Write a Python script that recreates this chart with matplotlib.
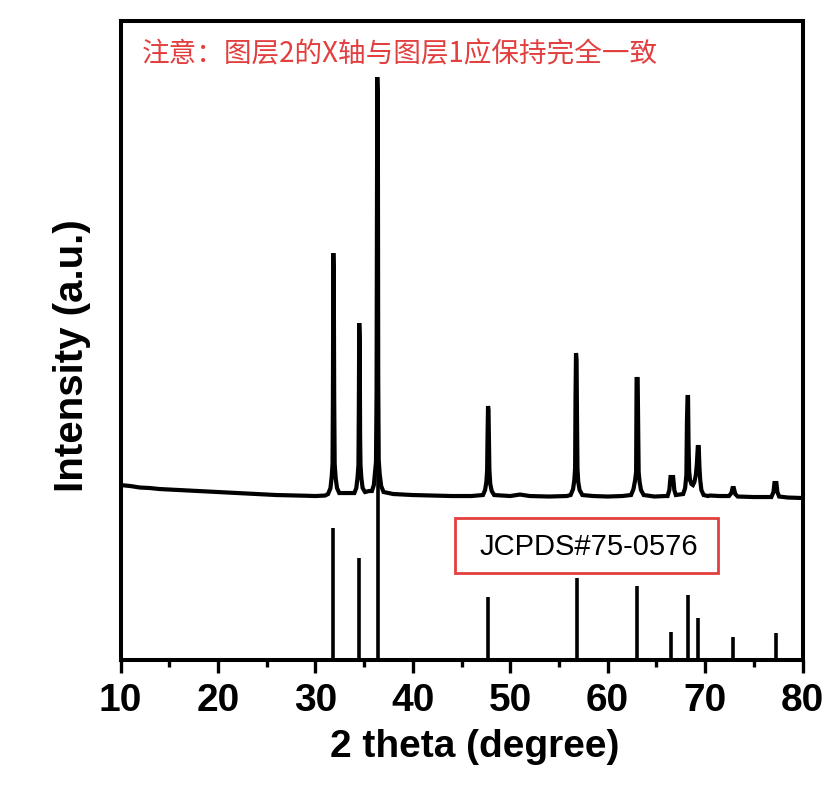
import matplotlib
matplotlib.use("Agg")
import matplotlib.pyplot as plt
from matplotlib.patches import Rectangle

plt.rcParams["font.family"] = ["Liberation Sans", "DejaVu Sans"]

RED = "#e23f3f"

# measured pattern (layer 1): vertices of the trace, 2theta vs intensity (a.u.)
PAT_X = [10.0, 11.0, 12.0, 13.0, 14.0, 15.0, 16.0, 17.0, 18.0, 19.0, 20.0, 21.0, 22.0,
         23.0, 24.0, 25.0, 26.0, 27.0, 28.0, 29.0, 30.0, 31.0,
         31.30, 31.55, 31.68, 31.76, 31.80, 31.84, 31.89, 31.93, 31.98, 32.08, 32.22, 32.45,
         33.2, 34.0, 34.2, 34.33, 34.42, 34.46, 34.50, 34.55, 34.59, 34.63, 34.72, 34.85, 35.1,
         35.5, 35.8, 36.0, 36.12, 36.22, 36.28, 36.35, 36.41, 36.45, 36.5, 36.6, 36.75, 37.0,
         38.0, 40.0, 42.0, 44.0, 46.0,
         47.2, 47.42, 47.55, 47.63, 47.67, 47.72, 47.77, 47.81, 47.86, 47.95, 48.1, 48.35,
         50.0, 51.0, 52.0, 54.0, 55.8,
         56.2, 56.45, 56.58, 56.66, 56.70, 56.75, 56.81, 56.85, 56.9, 56.98, 57.12, 57.4,
         58.5, 60.0, 61.5,
         62.4, 62.65, 62.82, 62.92, 62.97, 63.08, 63.13, 63.18, 63.28, 63.42, 63.7,
         64.8, 65.9,
         66.15, 66.33, 66.45, 66.6, 66.72, 66.84, 67.0,
         67.75, 67.95, 68.08, 68.14, 68.2, 68.25, 68.3, 68.36, 68.45, 68.6, 68.75, 68.9,
         69.05, 69.15, 69.25, 69.35, 69.42, 69.5, 69.62, 69.85, 70.3,
         70.5, 71.5, 72.3,
         72.45, 72.7, 72.82, 72.95, 73.1, 73.35,
         75.0,
         76.8, 77.02, 77.12, 77.32, 77.42, 77.6, 78.5, 80.0]
PAT_Y = [175, 174, 172.5, 172, 171, 170.5, 170, 169.5, 169, 168.5, 168, 167.5, 167,
         166.5, 166, 165.5, 165, 164.8, 164.5, 164.3, 164, 164.5,
         166, 172, 184, 196, 265, 407, 380, 262, 196, 182, 172, 167,
         167, 167, 172, 183, 195, 250, 337, 320, 223, 195, 182, 172, 168,
         169, 169, 175, 188, 198, 267, 583, 560, 280, 200, 186, 174, 168,
         166, 165, 164.5, 164, 164,
         165, 170, 178, 190, 223, 254, 250, 223, 190, 176, 169, 165,
         164, 165.5, 164, 163.5, 164,
         165, 171, 180, 192, 262, 307, 300, 245, 192, 178, 170, 165,
         164, 163.5, 164,
         165, 171, 180, 188, 281, 281, 230, 188, 178, 170, 165,
         163.5, 164,
         164, 170, 183, 183, 183, 170, 165,
         166, 172, 185, 240, 263, 263, 218, 190, 180, 176, 175, 178,
         185, 195, 213, 213, 193, 180, 170, 165, 164,
         164.5, 164, 164,
         164, 167, 172, 172, 166, 163.5,
         163,
         163, 168, 177, 177, 168, 163.5, 162.5, 162]

# JCPDS#75-0576 reference lines (layer 2)
REF_X = [31.85, 34.52, 36.38, 47.72, 56.85, 63.02, 66.52, 68.2, 69.32, 72.87, 77.32]
REF_H = [132, 102, 235, 63, 82, 74, 28, 65, 42, 23, 27]

XTICKS = [10, 20, 30, 40, 50, 60, 70, 80]

fig = plt.figure(figsize=(8.33, 7.85), dpi=100)
ax = fig.add_axes([0.1447, 0.1592, 0.8187, 0.814])

ax.plot(PAT_X, PAT_Y, color="black", lw=3.0, solid_joinstyle="miter")
ax.vlines(REF_X, 0, REF_H, color="black", lw=2.6)

ax.set_xlim(10, 80)
ax.set_ylim(0, 639)
ax.set_xticks(XTICKS)
ax.set_xticks([15, 25, 35, 45, 55, 65, 75], minor=True)
ax.set_yticks([])
ax.tick_params(axis="x", which="major", direction="out", length=9.5, width=2.4,
               labelsize=28, pad=7)
ax.tick_params(axis="x", which="minor", direction="out", length=5, width=2.4)
for lab in ax.get_xticklabels():
    lab.set_fontweight("bold")
for s in ax.spines.values():
    s.set_linewidth(2.9)

ax.set_xlabel("2 theta (degree)", fontsize=28, fontweight="bold")
ax.xaxis.set_label_coords(0.52, -0.108)
ax.set_ylabel("Intensity (a.u.)", fontsize=29, fontweight="bold")
ax.yaxis.set_label_coords(-0.044, 0.476)

# note and reference card label
ax.text(0.0315, 597.5 / 639, "注意：图层2的X轴与图层1应保持完全一致", transform=ax.transAxes,
        fontsize=19.9, color=RED, ha="left", va="baseline",
        family=["Noto Sans CJK SC", "DejaVu Sans"])
ax.add_patch(Rectangle((0.4905, 87 / 639), 0.386, 55 / 639, transform=ax.transAxes,
                       fill=False, ec=RED, lw=2.0, zorder=5))
ax.text(0.6865, 113.5 / 639, "JCPDS#75-0576", transform=ax.transAxes,
        fontsize=21, color="black", ha="center", va="center")

fig.savefig("out.png", dpi=100, facecolor="white")
